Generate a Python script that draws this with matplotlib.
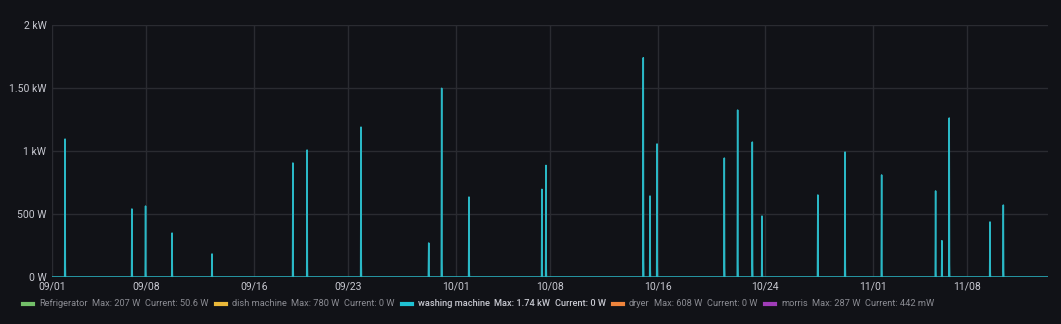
import pandas as pd
import matplotlib
matplotlib.use("Agg")
import matplotlib.pyplot as plt
import matplotlib.dates as mdates
from matplotlib.lines import Line2D

plt.rcParams['font.family'] = ['Roboto', 'DejaVu Sans']

# washing machine power spikes (start of each run, peak watts)
wash_times = [
    "2022-09-01 23:15", "2022-09-06 22:30", "2022-09-07 22:50", "2022-09-09 22:05",
    "2022-09-12 21:20", "2022-09-18 21:35", "2022-09-19 22:50", "2022-09-23 23:00",
    "2022-09-28 23:45", "2022-09-29 22:50", "2022-10-01 23:30", "2022-10-07 09:35",
    "2022-10-07 16:50", "2022-10-14 22:20", "2022-10-15 10:20", "2022-10-15 22:50",
    "2022-10-20 22:50", "2022-10-21 22:35", "2022-10-23 00:45", "2022-10-23 18:00",
    "2022-10-27 21:35", "2022-10-29 22:05", "2022-11-01 15:20", "2022-11-05 15:35",
    "2022-11-06 02:50", "2022-11-06 15:50", "2022-11-09 16:35", "2022-11-10 16:20",
]
wash_watts = [
    1095, 540, 563, 349, 183, 905, 1008, 1190, 270, 1498, 635, 696,
    886, 1740, 643, 1056, 944, 1325, 1071, 484, 651, 992, 810, 683,
    288, 1262, 437, 571,
]

legend_names = ["Refrigerator", "dish machine", "washing machine", "dryer", "morris"]
legend_max = ["207 W", "780 W", "1.74 kW", "608 W", "287 W"]
legend_current = ["50.6 W", "0 W", "0 W", "0 W", "442 mW"]
legend_colors = ["#73bf69", "#eab839", "#1fc2d3", "#ef843c", "#a03cb8"]

tick_dates = ["2022-09-01", "2022-09-08", "2022-09-16", "2022-09-23", "2022-10-01",
              "2022-10-08", "2022-10-16", "2022-10-24", "2022-11-01", "2022-11-08"]
y_ticks = [0, 500, 1000, 1500, 2000]
y_labels = ["0 W", "500 W", "1 kW", "1.50 kW", "2 kW"]

bg = "#111217"
grid = "#2a2b31"
txt = "#c7c8d0"
dim = "#8b8c93"

# build a series: flat zero with a narrow spike per run
start = pd.Timestamp("2022-09-01")
end = pd.Timestamp("2022-11-14")
xs = [start]
ys = [0]
for t, w in zip(pd.to_datetime(wash_times), wash_watts):
    xs += [t - pd.Timedelta(minutes=40), t, t + pd.Timedelta(minutes=30), t + pd.Timedelta(minutes=50)]
    ys += [0, w, w * 0.08, 0]
xs.append(end)
ys.append(0)

W, H = 1061, 324
fig = plt.figure(figsize=(W / 100, H / 100), dpi=100, facecolor=bg)
ax = fig.add_axes([52 / W, 47 / H, 996 / W, 252 / H], facecolor=bg)

ax.fill_between(xs, ys, 0, color="#1fc2d3", alpha=0.12, linewidth=0)
ax.plot(xs, ys, color="#2ab8c6", linewidth=1.1)

ax.set_xlim(start, end)
ax.set_ylim(0, 2000)
ax.set_yticks(y_ticks)
ax.set_yticklabels(y_labels)
ax.set_xticks(pd.to_datetime(tick_dates))
ax.xaxis.set_major_formatter(mdates.DateFormatter("%m/%d"))

ax.grid(True, color=grid, linewidth=1)
ax.set_axisbelow(True)
for s in ax.spines.values():
    s.set_visible(False)
ax.tick_params(length=0, colors=txt, labelsize=7.5, pad=4)
ax.tick_params(axis='x', pad=3)

# legend row along the bottom: marker, then name / max / current pieces
renderer = fig.canvas.get_renderer()
legend_x = [23, 216, 402, 613, 765]
yy = 1 - 304 / H
for i, name in enumerate(legend_names):
    x_px = legend_x[i]
    fig.add_artist(Line2D([x_px / W, (x_px + 10) / W], [yy, yy], color=legend_colors[i],
                          linewidth=3, transform=fig.transFigure))
    active = name == "washing machine"
    x_px += 16
    for piece in [name, f"Max: {legend_max[i]}", f"Current: {legend_current[i]}"]:
        t = fig.text(x_px / W, yy, piece, color=txt if active else dim,
                     fontsize=6.7, va="center", ha="left",
                     fontweight="medium" if active else "normal")
        x_px = t.get_window_extent(renderer).x1 + 4.5

fig.savefig("out.png", dpi=100, facecolor=bg)
